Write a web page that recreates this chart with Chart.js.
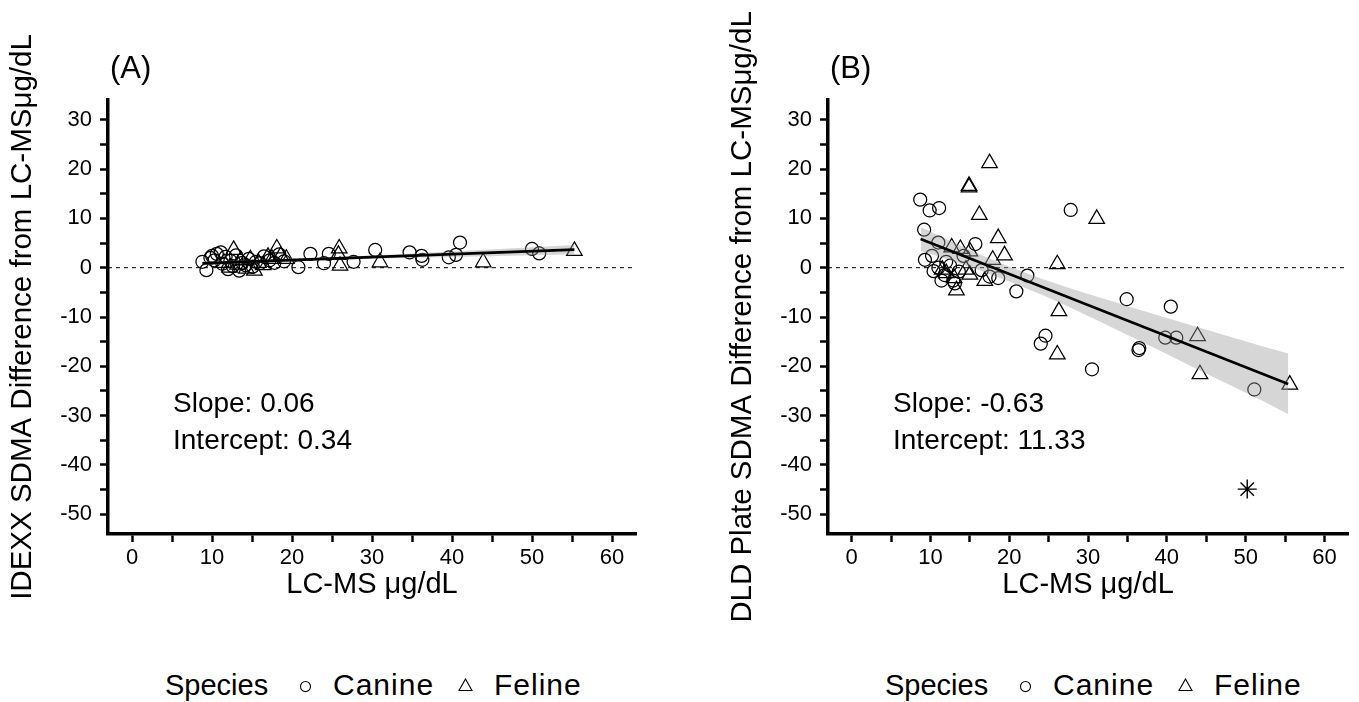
<!DOCTYPE html>
<html><head><meta charset="utf-8">
<script src="https://cdn.jsdelivr.net/npm/chart.js@4.4.0/dist/chart.umd.min.js"></script>
<style>
html,body{margin:0;padding:0;background:#fff;width:1359px;height:702px;overflow:hidden;font-family:"Liberation Sans",Arial,sans-serif;}
#wa{position:absolute;left:0;top:0;width:720px;height:620px;}
#wb{position:absolute;left:720px;top:0;width:639px;height:620px;}
.lg{position:absolute;top:668px;font-size:30px;line-height:34px;color:#000;white-space:nowrap;}
.sym{position:absolute;}
</style></head><body>
<div id="wa"><canvas id="ca"></canvas></div>
<div id="wb"><canvas id="cb"></canvas></div>

<div class="lg" style="left:165px;font-size:29px">Species</div>
<svg class="sym" style="left:299px;top:680px" width="13" height="13"><circle cx="6.5" cy="6.5" r="5" fill="none" stroke="#000" stroke-width="1.1"/></svg>
<div class="lg" style="left:333px;letter-spacing:1px">Canine</div>
<svg class="sym" style="left:458px;top:678px" width="15" height="14"><polygon points="7.5,1 14,12.5 1,12.5" fill="none" stroke="#000" stroke-width="1.1"/></svg>
<div class="lg" style="left:494px;letter-spacing:1px">Feline</div>

<div class="lg" style="left:885px;font-size:29px">Species</div>
<svg class="sym" style="left:1019px;top:680px" width="13" height="13"><circle cx="6.5" cy="6.5" r="5" fill="none" stroke="#000" stroke-width="1.1"/></svg>
<div class="lg" style="left:1053px;letter-spacing:1px">Canine</div>
<svg class="sym" style="left:1178px;top:678px" width="15" height="14"><polygon points="7.5,1 14,12.5 1,12.5" fill="none" stroke="#000" stroke-width="1.1"/></svg>
<div class="lg" style="left:1214px;letter-spacing:1px">Feline</div>

<script>
// ---------- Panel A: IDEXX ----------
const canineA_x = [8.8, 9.3, 9.8, 10.0, 10.3, 10.6, 11.1, 11.3, 11.7, 12.0, 12.3, 12.6, 13.0, 13.4, 13.8, 14.2, 14.6, 15.1, 15.5, 16.0, 16.5, 17.2, 17.8, 18.4, 19.0, 20.8, 22.3, 24.0, 24.6, 27.7, 30.4, 34.7, 36.2, 36.3, 39.6, 40.5, 41.0, 50.0, 50.9];
const canineA_y = [1.2, -0.5, 2.0, 2.4, 1.5, 2.8, 3.1, 0.8, 2.2, -0.3, 1.4, 0.3, 2.5, -0.6, 1.0, 0.5, 1.8, 0.2, 1.2, 0.9, 2.3, 1.5, 1.0, 2.7, 1.3, 0.1, 2.8, 0.9, 2.8, 1.2, 3.6, 3.1, 2.4, 1.6, 2.1, 2.6, 5.1, 3.8, 2.9];
const felineA_x = [11.5, 12.2, 12.7, 13.2, 13.6, 14.3, 14.8, 15.3, 15.8, 16.4, 17.0, 17.5, 18.1, 18.6, 19.3, 25.8, 25.9, 26.0, 31.0, 43.9, 55.3];
const felineA_y = [1.0, 0.0, 3.6, 0.6, 1.5, -0.2, 1.7, -0.6, 1.0, 0.5, 2.2, 1.8, 3.9, 2.4, 1.8, 2.6, 3.9, 0.4, 1.1, 1.1, 3.4];
const fitA_x = [8.8, 55.3];
const fitA_y = [0.87, 3.66];
const bandA_x = [8.8, 15, 20, 30, 40, 50, 55.3];
const bandA_hi = [1.32, 1.54, 1.84, 2.49, 3.29, 4.14, 4.61];
const bandA_lo = [0.42, 0.94, 1.24, 1.79, 2.19, 2.54, 2.71];

// ---------- Panel B: DLD Plate ----------
const canineB_x = [8.7, 9.9, 11.1, 9.2, 9.3, 11.0, 10.2, 10.4, 11.4, 12.9, 13.1, 12.5, 15.7, 14.2, 18.6, 22.3, 20.9, 27.8, 11.0, 11.8, 12.0, 13.6, 16.5, 17.5, 34.9, 40.5, 24.6, 24.0, 36.5, 36.4, 39.8, 41.2, 30.5, 51.1];
const canineB_y = [13.8, 11.6, 12.1, 7.7, 1.6, 5.1, 2.4, -0.7, -2.6, -2.6, -3.2, 0.4, 4.8, 2.4, -2.1, -1.6, -4.8, 11.7, 0.0, -1.5, 1.2, -0.8, -0.5, -1.8, -6.4, -7.9, -13.8, -15.4, -16.3, -16.7, -14.2, -14.2, -20.6, -24.7];
const felineB_x = [17.5, 14.9, 14.9, 16.2, 18.6, 19.4, 12.7, 13.8, 15.0, 17.9, 26.1, 13.3, 15.0, 16.9, 11.5, 14.5, 12.0, 13.0, 31.1, 26.3, 26.1, 43.9, 44.2, 55.6];
const felineB_y = [21.2, 16.6, 16.3, 10.7, 6.0, 2.5, 4.1, 3.8, 3.3, 1.6, 0.7, -4.6, -1.4, -2.7, -0.4, -0.4, -1.1, -2.1, 9.9, -8.8, -17.6, -13.9, -21.6, -23.7];
const outlierB_x = [50.2];
const outlierB_y = [-44.9];
const fitB_x = [8.75, 55.4];
const fitB_y = [5.8, -23.6];
const bandB_x = [8.8, 12, 16, 20, 24, 28, 32, 36, 40, 44, 48, 52, 55.4];
const bandB_hi = [8.2, 5.8, 2.9, 0.2, -2.2, -4.3, -6.3, -8.3, -10.2, -12.1, -14.0, -15.9, -17.4];
const bandB_lo = [3.4, 1.8, -0.4, -2.8, -5.4, -8.3, -11.3, -14.4, -17.5, -20.7, -23.8, -26.9, -29.7];

// ---------- Axis ----------
const xTicks = [0, 10, 20, 30, 40, 50, 60];
const yTicks = [-50, -40, -30, -20, -10, 0, 10, 20, 30];

const FONT = '"Liberation Sans", Arial, sans-serif';
const pts = (xs, ys) => xs.map((x, i) => ({x: x, y: ys[i]}));

const notesPlugin = {
  id: 'notes',
  afterDraw(chart, args, opts) {
    const ctx = chart.ctx, ca = chart.chartArea;
    ctx.save();
    ctx.fillStyle = '#000';
    ctx.textBaseline = 'middle';
    ctx.textAlign = 'left';
    (opts.items || []).forEach(it => {
      ctx.font = it.size + 'px ' + FONT;
      ctx.fillText(it.text, ca.left + it.dx, it.y);
    });
    ctx.restore();
  }
};

function makeChart(id, P) {
  const datasets = [
    {data: pts(P.fitX, P.fitY), showLine: true, borderColor: '#000', borderWidth: 2.6, pointRadius: 0, fill: false},
    {data: pts(P.bandX, P.bandHi), showLine: true, borderWidth: 0, borderColor: 'rgba(0,0,0,0)', pointRadius: 0, fill: '+1', backgroundColor: 'rgba(153,153,153,0.4)'},
    {data: pts(P.bandX, P.bandLo), showLine: true, borderWidth: 0, borderColor: 'rgba(0,0,0,0)', pointRadius: 0, fill: false},
    {label: 'Canine', data: pts(P.canX, P.canY), pointStyle: 'circle', pointRadius: 6.5, pointBorderColor: '#000', pointBackgroundColor: 'rgba(0,0,0,0)', pointBorderWidth: 1.25, showLine: false},
    {label: 'Feline', data: pts(P.felX, P.felY), pointStyle: 'triangle', pointRadius: 9, pointBorderColor: '#000', pointBackgroundColor: 'rgba(0,0,0,0)', pointBorderWidth: 1.25, showLine: false},
  ];
  if (P.outX) {
    datasets.push({data: pts(P.outX, P.outY), pointStyle: 'star', pointRadius: 9.5, pointBorderColor: '#000', pointBorderWidth: 1.4, showLine: false});
  }
  datasets.push({data: [{x: -3, y: 0}, {x: 63, y: 0}], showLine: true, borderColor: '#000', borderWidth: 1, borderDash: [4, 4], pointRadius: 0, fill: false});

  return new Chart(document.getElementById(id), {
    type: 'scatter',
    data: {datasets: datasets},
    plugins: [notesPlugin],
    options: {
      responsive: true,
      maintainAspectRatio: false,
      animation: false,
      events: [],
      layout: {padding: {top: 100, left: 0, bottom: 0, right: P.padRight}},
      plugins: {
        legend: {display: false},
        tooltip: {enabled: false},
        notes: {items: [
          {text: P.tag, dx: 2, y: 69, size: 31},
          {text: P.slope, dx: 65, y: 404, size: 28},
          {text: P.icpt, dx: 65, y: 441, size: 28}
        ]}
      },
      scales: {
        x: {
          type: 'linear', min: -3, max: 63,
          border: {display: true, color: '#000', width: 3.5},
          grid: {display: true, drawOnChartArea: false, drawTicks: true, tickLength: 8, tickWidth: 2.5, tickColor: '#000'},
          ticks: {stepSize: 5, includeBounds: false, autoSkip: false, maxRotation: 0, color: '#000', padding: 3,
                  font: {family: FONT, size: 22},
                  callback: v => xTicks.includes(v) ? String(v) : ''},
          title: {display: true, text: 'LC-MS μg/dL', color: '#000', font: {family: FONT, size: 29}, padding: {top: 0, bottom: 18}},
          afterFit: s => { s.height = 86; }
        },
        y: {
          type: 'linear', min: -54, max: 34,
          border: {display: true, color: '#000', width: 3.5},
          grid: {display: true, drawOnChartArea: false, drawTicks: true, tickLength: 8, tickWidth: 2.5, tickColor: '#000'},
          ticks: {stepSize: 5, includeBounds: false, autoSkip: false, color: '#000', padding: 8,
                  font: {family: FONT, size: 22},
                  callback: v => yTicks.includes(v) ? String(v) : ''},
          title: {display: true, text: P.ytitle, color: '#000', font: {family: FONT, size: 29.5}, padding: {top: 5, bottom: 0}},
          afterFit: s => { s.width = 108; }
        }
      }
    }
  });
}

makeChart('ca', {
  canX: canineA_x, canY: canineA_y, felX: felineA_x, felY: felineA_y,
  fitX: fitA_x, fitY: fitA_y, bandX: bandA_x, bandHi: bandA_hi, bandLo: bandA_lo,
  tag: '(A)', slope: 'Slope: 0.06', icpt: 'Intercept: 0.34',
  ytitle: 'IDEXX SDMA Difference from LC-MSμg/dL', padRight: 84
});
makeChart('cb', {
  canX: canineB_x, canY: canineB_y, felX: felineB_x, felY: felineB_y,
  outX: outlierB_x, outY: outlierB_y,
  fitX: fitB_x, fitY: fitB_y, bandX: bandB_x, bandHi: bandB_hi, bandLo: bandB_lo,
  tag: '(B)', slope: 'Slope: -0.63', icpt: 'Intercept: 11.33',
  ytitle: 'DLD Plate SDMA Difference from LC-MSμg/dL', padRight: 3
});
</script>
</body></html>
